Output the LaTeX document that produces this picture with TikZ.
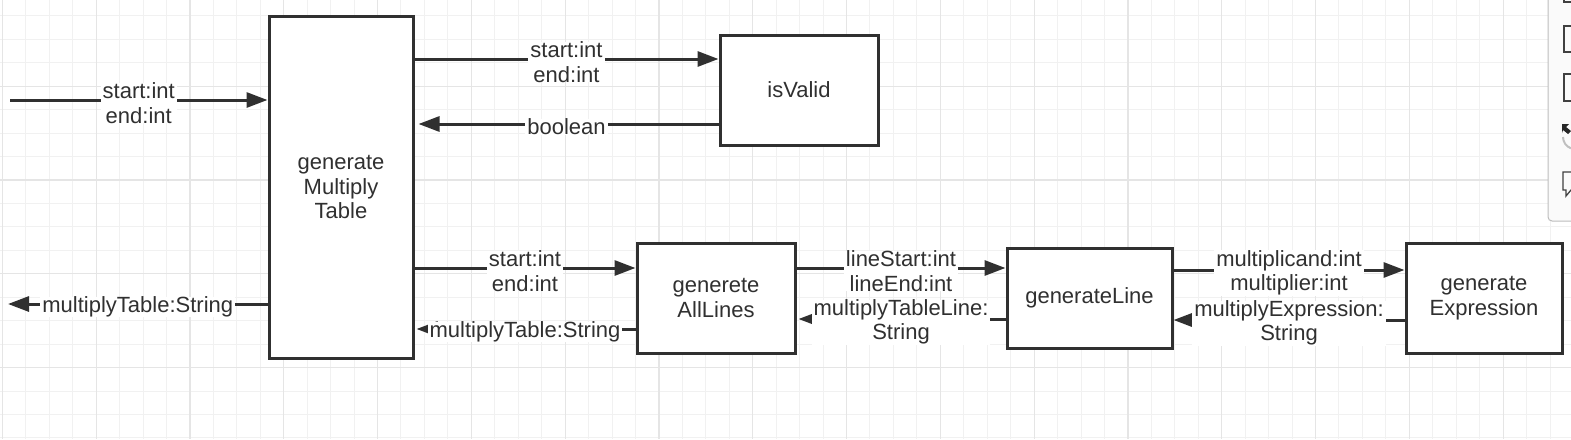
\documentclass[tikz,border=0pt]{standalone}
\usepackage{fontspec}
\setmainfont{Liberation Sans}
\usetikzlibrary{arrows.meta}

\definecolor{ink}{HTML}{303030}
\definecolor{gridmin}{HTML}{F1F1F1}
\definecolor{gridmaj}{HTML}{E5E5E5}
\definecolor{panelfill}{HTML}{FAFAFA}
\definecolor{panelline}{HTML}{BDBDBD}

\tikzset{
	box/.style={draw=ink, line width=3pt, fill=white, align=center, text=ink, inner sep=0pt},
	flow/.style={draw=ink, line width=3pt, -{Triangle[length=21pt,width=15pt]}},
	lbl/.style={fill=white, text=ink, align=center, inner xsep=2pt, inner ysep=0pt, midway, yshift=-3pt},
}

\begin{document}
\begin{tikzpicture}[x=1pt, y=-1pt, font=\fontsize{22}{24.5}\selectfont]
	\pgfmathsetmacro{\cell}{23.45}		%minor grid step
	\pgfmathsetmacro{\major}{93.8}		%major grid step
	\pgfmathsetmacro{\gx}{2.3}			%first vertical grid line
	\pgfmathsetmacro{\gy}{15.8}			%first horizontal grid line

	\useasboundingbox (0,0) rectangle (1571,439);

	%background grid
	\begin{scope}
		\clip (0,0) rectangle (1571,439);
		\foreach \i in {0,...,66}
			\draw[gridmin, line width=1pt] ({\gx+\cell*\i},0) -- ({\gx+\cell*\i},439);
		\foreach \j in {0,...,18}
			\draw[gridmin, line width=1pt] (0,{\gy+\cell*\j}) -- (1571,{\gy+\cell*\j});
		\foreach \i in {0,...,16}
			\draw[gridmaj, line width=1.2pt] ({\gx+\major*\i},0) -- ({\gx+\major*\i},439);
		\foreach \j in {1,...,4}
			\draw[gridmaj, line width=1.2pt] (0,{\gy-\cell+\major*\j}) -- (1571,{\gy-\cell+\major*\j});

		%toolbar at the right edge
		\draw[panelline, fill=panelfill, line width=1pt, rounded corners=4pt] (1548,-8) rectangle (1590,221);
		\draw[black!75, line width=1.3pt] (1564,-10) rectangle (1590,2);
		\draw[black!75, line width=1.3pt] (1564,26) rectangle (1590,52);
		\draw[black!75, line width=1.3pt] (1564,74) rectangle (1590,101);
		\fill[black!85] (1562,124) -- (1569,124) -- (1566,127) -- (1571,131) -- (1568,134) -- (1563,130) -- (1562,133) -- cycle;
		\draw[black!25, line width=2pt] (1563,137) arc[start angle=180, end angle=110, radius=12];
		\draw[black!75, line width=1.3pt] (1590,172) -- (1563,172) -- (1563,190) -- (1566,190) -- (1566,196) -- (1571,190) -- (1590,190);
	\end{scope}

	%blocks
	\node[box, minimum width=144, minimum height=342] (genTable) at (341,187) {generate\\Multiply\\Table};
	\node[box, minimum width=158, minimum height=110] (isValid) at (799,90) {isValid};
	\node[box, minimum width=158, minimum height=110] (allLines) at (716,298) {generete\\AllLines};
	\node[box, minimum width=165, minimum height=100] (genLine) at (1089.5,298) {generateLine};
	\node[box, minimum width=156, minimum height=110] (genExpr) at (1484,298) {generate\\Expression};

	%free ends on the left
	\coordinate (inp) at (10,100);
	\coordinate (outp) at (8,304);

	%calls and returns
	\draw[flow] (inp) -- (inp -| genTable.west) node[lbl] {start:int\\end:int};
	\draw[flow] (genTable.west |- outp) -- (outp) node[lbl] {multiplyTable:String};

	\draw[flow] ([yshift=31pt]isValid.west -| genTable.east) -- ([yshift=31pt]isValid.west) node[lbl] {start:int\\end:int};
	\draw[flow, shorten >=4pt] ([yshift=-34pt]isValid.west) -- ([yshift=-34pt]isValid.west -| genTable.east) node[lbl] {boolean};

	\draw[flow] ([yshift=30pt]allLines.west -| genTable.east) -- ([yshift=30pt]allLines.west) node[lbl] {start:int\\end:int};
	\draw[flow, shorten >=2pt] ([yshift=-31pt]allLines.west) -- ([yshift=-31pt]allLines.west -| genTable.east) node[lbl] {multiplyTable:String};

	\draw[flow] ([yshift=30pt]allLines.east) -- ([yshift=30pt]allLines.east -| genLine.west) node[lbl] {lineStart:int\\lineEnd:int};
	\draw[flow, shorten >=2pt] ([yshift=-21pt]genLine.west) -- ([yshift=-21pt]genLine.west -| allLines.east) node[lbl] {multiplyTableLine:\\String};

	\draw[flow] ([yshift=28pt]genLine.east) -- ([yshift=28pt]genLine.east -| genExpr.west) node[lbl] {multiplicand:int\\multiplier:int};
	\draw[flow] ([yshift=-22pt]genExpr.west) -- ([yshift=-22pt]genExpr.west -| genLine.east) node[lbl] {multiplyExpression:\\String};

\end{tikzpicture}
\end{document}
